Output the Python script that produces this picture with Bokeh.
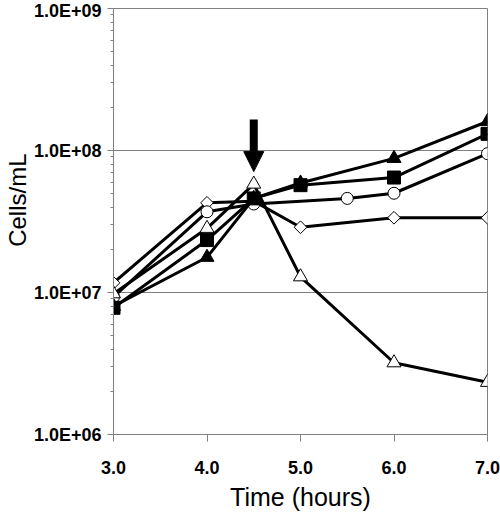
from bokeh.plotting import figure
from bokeh.models import Arrow, NormalHead, FixedTicker, Range1d, PrintfTickFormatter, Title
from bokeh.embed import file_html
from bokeh.resources import INLINE

# ---- data ----
hours = [3.0, 4.0, 4.5, 5.0, 6.0, 7.0]
hours_circle = [3.0, 4.0, 4.5, 5.5, 6.0, 7.0]

filled_triangle = [8.0e6, 1.77e7, 4.6e7, 5.9e7, 8.8e7, 1.6e8]
filled_square = [7.8e6, 2.34e7, 4.6e7, 5.7e7, 6.45e7, 1.31e8]
open_circle = [9.3e6, 3.7e7, 4.2e7, 4.6e7, 5.0e7, 9.5e7]
open_diamond = [1.17e7, 4.28e7, 4.4e7, 2.88e7, 3.36e7, 3.36e7]
open_triangle = [9.8e6, 2.83e7, 5.8e7, 1.29e7, 3.2e6, 2.33e6]

x_ticks = [3, 4, 5, 6, 7]
y_ticks = [1e6, 1e7, 1e8, 1e9]
y_tick_labels = ["1.0E+06", "1.0E+07", "1.0E+08", "1.0E+09"]
y_minor = [k * 10 ** n for n in range(6, 9) for k in range(2, 10)]

arrow_x = 4.5
arrow_top = 1.65e8
arrow_tip = 7.1e7

FONT = "Liberation Sans"
GRAY = "#808080"

p = figure(width=500, height=514, y_axis_type="log",
           x_range=Range1d(3, 7), y_range=Range1d(1e6, 1e9),
           output_backend="svg", toolbar_location=None,
           min_border_left=113, min_border_right=13,
           min_border_top=8, min_border_bottom=80)

p.outline_line_color = GRAY
p.outline_line_width = 1
p.xgrid.visible = False
p.ygrid.grid_line_color = GRAY
p.ygrid.grid_line_width = 1

# x axis
xa = p.xaxis[0]
xa.ticker = FixedTicker(ticks=x_ticks)
xa.formatter = PrintfTickFormatter(format="%.1f")
xa.axis_label = "Time (hours)"
xa.axis_label_text_font = FONT
xa.axis_label_text_font_size = "25px"
xa.axis_label_text_font_style = "normal"
xa.axis_label_text_color = "black"
xa.axis_label_standoff = 6
xa.major_label_text_font = FONT
xa.major_label_text_font_size = "18px"
xa.major_label_text_font_style = "bold"
xa.major_label_text_color = "black"
xa.major_label_standoff = 19
xa.major_tick_out = 7
xa.major_tick_in = 0
xa.minor_tick_out = 0
xa.minor_tick_in = 0
xa.axis_line_color = GRAY
xa.major_tick_line_color = GRAY

# y axis
ya = p.yaxis[0]
ya.ticker = FixedTicker(ticks=y_ticks, minor_ticks=y_minor)
ya.major_label_overrides = {t: l for t, l in zip(y_ticks, y_tick_labels)}
ya.major_label_text_font = FONT
ya.major_label_text_font_size = "18px"
ya.major_label_text_font_style = "bold"
ya.major_label_text_color = "black"
ya.major_label_standoff = 6
ya.major_tick_out = 6
ya.major_tick_in = 0
ya.minor_tick_out = 3
ya.minor_tick_in = 0
ya.axis_line_color = GRAY
ya.major_tick_line_color = GRAY
ya.minor_tick_line_color = GRAY

p.add_layout(Title(text="Cells/mL", align="right", offset=145, standoff=0,
                   text_font=FONT, text_font_size="24px", text_font_style="normal",
                   text_color="black"), "left")

LW = 3

# series (drawn bottom to top)
p.line(hours, open_diamond, line_color="black", line_width=LW)
p.scatter(hours, open_diamond, marker="square", angle=0.7853981634, size=9,
          fill_color="white", line_color="black", line_width=1)

p.line(hours_circle, open_circle, line_color="black", line_width=LW)
p.scatter(hours_circle, open_circle, marker="circle", size=12,
          fill_color="white", line_color="black", line_width=1)

p.line(hours, open_triangle, line_color="black", line_width=LW)
p.scatter(hours, open_triangle, marker="triangle", size=14,
          fill_color="white", line_color="black", line_width=1)

p.line(hours, filled_triangle, line_color="black", line_width=LW)
p.scatter(hours, filled_triangle, marker="triangle", size=14,
          fill_color="black", line_color="black", line_width=1)

p.line(hours, filled_square, line_color="black", line_width=LW)
p.scatter(hours, filled_square, marker="square", size=13,
          fill_color="black", line_color="black", line_width=1)

# arrow marking the treatment time
p.add_layout(Arrow(end=NormalHead(size=20, fill_color="black", line_color="black", line_width=1),
                   x_start=arrow_x, y_start=arrow_top, x_end=arrow_x, y_end=arrow_tip,
                   line_color="black", line_width=8))

open("out.html", "w").write(file_html(p, INLINE))
